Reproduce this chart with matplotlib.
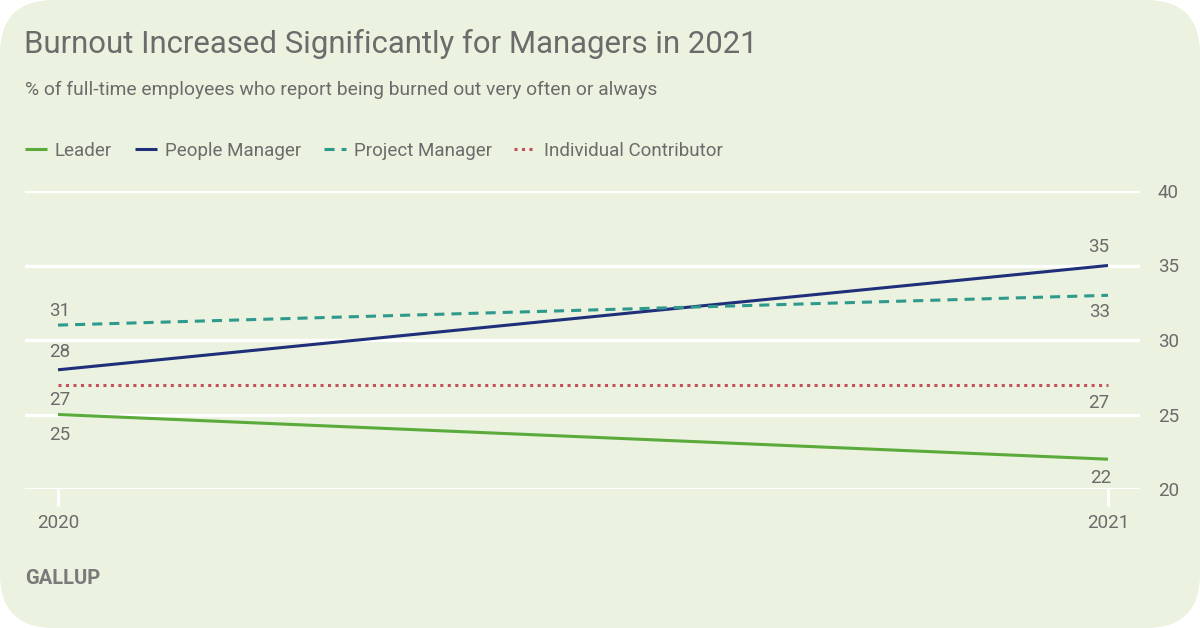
import matplotlib
matplotlib.use("Agg")
import matplotlib.pyplot as plt
from matplotlib.patches import FancyBboxPatch

years = [2020, 2021]
series_names = ["Leader", "People Manager", "Project Manager", "Individual Contributor"]
leader = [25, 22]
people_manager = [28, 35]
project_manager = [31, 33]
individual_contributor = [27, 27]
y_ticks = [20, 25, 30, 35, 40]

BG = "#ebf2df"
TXT = "#6b6b6b"
colors = ["#5aaa3c", "#1f2f7a", "#2e9a8e", "#c4505e"]
styles = ["-", "-", (0, (3.3, 2.3)), (0, (1, 1.45))]
values = [leader, people_manager, project_manager, individual_contributor]

plt.rcParams["font.family"] = ["Roboto", "DejaVu Sans"]

fig = plt.figure(figsize=(12, 6.28), dpi=100, facecolor="white")
bg = FancyBboxPatch((0.0, 0.0), 1.0, 1.0, boxstyle="round,pad=0,rounding_size=0.045",
                    transform=fig.transFigure, facecolor=BG, edgecolor="none",
                    mutation_aspect=1200/628, zorder=-10)
fig.patches.append(bg)

W, H = 1200, 628
FS = 13.5
ax = fig.add_axes([25/W, (H-489)/H, 1115/W, 298/H])
ax.set_facecolor("none")
ax.set_xlim(2020 - 33/1050, 2021 + 32/1050)
ax.set_ylim(20, 40)
for s in ax.spines.values():
    s.set_visible(False)
ax.set_yticks(y_ticks)
ax.yaxis.tick_right()
ax.tick_params(axis="y", length=0, pad=13, labelsize=FS, labelcolor=TXT)
ax.grid(axis="y", color="white", linewidth=2.4, zorder=0)
ax.set_xticks(years)
ax.set_xticklabels([str(y) for y in years])
ax.tick_params(axis="x", length=12, width=2.2, color="white", pad=6, labelsize=FS, labelcolor=TXT)
ax.set_axisbelow(True)

handles = []
for name, vals, c, ls in zip(series_names, values, colors, styles):
    h, = ax.plot(years, vals, color=c, linestyle=ls, linewidth=2.2, label=name, zorder=3,
                 solid_capstyle="butt", dash_capstyle="butt")
    handles.append(h)

# value labels: (series index, year index) -> (dx, dy) offset in points
offsets = {
    (0, 0): (1, -14.4), (0, 1): (-5, -13.7),
    (1, 0): (1, 13), (1, 1): (-7, 13.2),
    (2, 0): (1, 10.3), (2, 1): (-6, -12.2),
    (3, 0): (1, -11.3), (3, 1): (-7, -13),
}
for si, vals in enumerate(values):
    for yi, (x, v) in enumerate(zip(years, vals)):
        ax.annotate(str(v), (x, v), xytext=offsets[(si, yi)], textcoords="offset points",
                    ha="center", va="center", fontsize=FS, color=TXT)

fig.text(24/W, 1 - 44/H, "Burnout Increased Significantly for Managers in 2021",
         fontsize=22.4, color=TXT, ha="left", va="center")
fig.text(25/W, 1 - 90/H, "% of full-time employees who report being burned out very often or always",
         fontsize=13.85, color=TXT, ha="left", va="center")
fig.text(25/W, 1 - 578/H, "GALLUP", fontsize=14.5, color="#7a7a7a", fontweight="bold",
         ha="left", va="center")

fs_px = FS / 72 * 100
leg = fig.legend(handles=handles, loc="center left", bbox_to_anchor=(25/W, 1 - 151/H),
                 ncol=4, frameon=False, fontsize=FS, handlelength=22/fs_px,
                 handletextpad=8/fs_px, columnspacing=22.5/fs_px, labelcolor=TXT,
                 borderpad=0, borderaxespad=0)

fig.savefig("out.png", dpi=100, facecolor="white")
